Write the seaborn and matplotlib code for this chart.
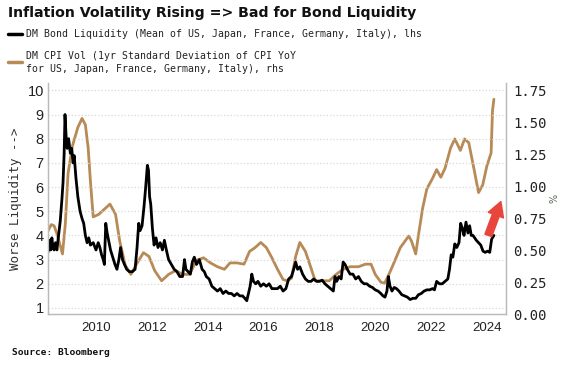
import matplotlib
matplotlib.use("Agg")
import matplotlib.pyplot as plt
import seaborn as sns
import pandas as pd

# DM bond liquidity (lhs), decimal year / level
liq_year = [2008.28, 2008.33, 2008.38, 2008.42, 2008.46, 2008.5, 2008.55, 2008.6, 2008.66, 2008.72,
            2008.78, 2008.82, 2008.86, 2008.89, 2008.93, 2008.97, 2009.02, 2009.08, 2009.13, 2009.18,
            2009.22, 2009.28, 2009.35, 2009.43, 2009.5, 2009.56, 2009.62, 2009.68, 2009.74, 2009.8,
            2009.9, 2010.0, 2010.08, 2010.14, 2010.2, 2010.26, 2010.3, 2010.35, 2010.4, 2010.45,
            2010.52, 2010.6, 2010.68, 2010.75, 2010.82, 2010.88, 2010.95, 2011.02, 2011.1, 2011.2,
            2011.3, 2011.4, 2011.47, 2011.53, 2011.58, 2011.65, 2011.72, 2011.78, 2011.84, 2011.88,
            2011.92, 2011.96, 2012.02, 2012.08, 2012.15, 2012.22, 2012.3, 2012.38, 2012.45, 2012.52,
            2012.6, 2012.7, 2012.8, 2012.9, 2013.0, 2013.1, 2013.17, 2013.22, 2013.3, 2013.38,
            2013.45, 2013.52, 2013.6, 2013.7, 2013.8, 2013.88, 2013.95, 2014.05, 2014.15, 2014.25,
            2014.35, 2014.45, 2014.55, 2014.65, 2014.75, 2014.85, 2014.95, 2015.05, 2015.15, 2015.25,
            2015.33, 2015.4, 2015.46, 2015.52, 2015.58, 2015.64, 2015.72, 2015.8, 2015.9, 2016.0,
            2016.1, 2016.2, 2016.3, 2016.4, 2016.5, 2016.6, 2016.7, 2016.8, 2016.9, 2017.0,
            2017.08, 2017.15, 2017.22, 2017.3, 2017.4, 2017.5, 2017.6, 2017.7, 2017.8, 2017.9,
            2018.0, 2018.1, 2018.2, 2018.3, 2018.4, 2018.5, 2018.56, 2018.62, 2018.7, 2018.78,
            2018.85, 2018.92, 2019.0, 2019.1, 2019.2, 2019.3, 2019.4, 2019.5, 2019.6, 2019.7,
            2019.8, 2019.9, 2020.0, 2020.1, 2020.2, 2020.28, 2020.35, 2020.42, 2020.47, 2020.53,
            2020.6, 2020.68, 2020.76, 2020.85, 2020.95, 2021.05, 2021.15, 2021.25, 2021.35, 2021.45,
            2021.55, 2021.65, 2021.75, 2021.85, 2021.95, 2022.05, 2022.12, 2022.2, 2022.3, 2022.4,
            2022.5, 2022.6, 2022.66, 2022.72, 2022.78, 2022.85, 2022.92, 2023.0, 2023.06, 2023.12,
            2023.18, 2023.25, 2023.32, 2023.38, 2023.44, 2023.5, 2023.56, 2023.62, 2023.7, 2023.78,
            2023.86, 2023.94, 2024.02, 2024.1, 2024.17, 2024.25]
liq_value = [3.3, 3.8, 3.4, 3.9, 3.5, 3.4, 3.7, 3.4, 4.0, 4.6,
             5.5, 6.2, 7.4, 9.0, 8.1, 7.6, 8.0, 7.4, 7.6, 7.0,
             7.3, 6.4, 5.6, 5.0, 4.7, 4.5, 4.0, 3.7, 3.9, 3.6,
             3.7, 3.4, 3.7, 3.5, 3.2, 3.0, 2.8, 4.5, 4.1, 3.8,
             3.4, 3.1, 2.8, 2.6, 3.0, 3.5, 3.0, 2.8, 2.6, 2.5,
             2.5, 2.6, 3.5, 4.5, 4.2, 4.4, 5.2, 6.0, 6.9, 6.7,
             5.6, 5.3, 4.3, 3.6, 3.9, 3.5, 3.7, 3.4, 3.8, 3.4,
             3.0, 2.8, 2.6, 2.5, 2.3, 2.3, 3.0, 2.6, 2.5, 2.4,
             2.9, 3.1, 2.8, 3.0, 2.6, 2.5, 2.3, 2.2, 1.9, 1.8,
             1.7, 1.8, 1.6, 1.7, 1.6, 1.6, 1.5, 1.6, 1.5, 1.5,
             1.4, 1.3, 1.6, 1.9, 2.4, 2.1, 2.0, 2.1, 1.9, 2.0,
             1.9, 2.0, 1.8, 1.8, 1.8, 1.9, 1.7, 1.8, 2.2, 2.3,
             2.6, 2.9, 2.6, 2.7, 2.4, 2.2, 2.1, 2.1, 2.2, 2.1,
             2.1, 2.15, 2.0, 1.9, 1.8, 1.7, 2.3, 2.1, 2.3, 2.2,
             2.9, 2.8, 2.6, 2.4, 2.4, 2.2, 2.3, 2.1, 2.0, 2.0,
             1.9, 1.85, 1.75, 1.7, 1.6, 1.5, 1.45, 1.7, 2.3, 1.9,
             1.7, 1.85, 1.8, 1.7, 1.55, 1.5, 1.45, 1.35, 1.4, 1.4,
             1.55, 1.6, 1.7, 1.75, 1.75, 1.8, 1.75, 2.1, 2.0, 2.0,
             2.1, 2.2, 2.6, 3.2, 3.1, 3.65, 3.5, 3.7, 4.5, 4.3,
             4.0, 4.55, 4.1, 4.4, 4.0, 4.0, 3.9, 3.8, 3.7, 3.6,
             3.35, 3.3, 3.35, 3.3, 3.85, 4.0]

# DM CPI volatility (rhs, %)
vol_year = [2008.28, 2008.4, 2008.5, 2008.6, 2008.7, 2008.8, 2008.9, 2009.0, 2009.15, 2009.35,
            2009.5, 2009.62, 2009.72, 2009.8, 2009.9, 2010.1, 2010.3, 2010.5, 2010.7, 2010.85,
            2011.05, 2011.25, 2011.45, 2011.7, 2011.9, 2012.1, 2012.35, 2012.6, 2012.85, 2013.1,
            2013.35, 2013.6, 2013.85, 2014.1, 2014.35, 2014.6, 2014.8, 2015.05, 2015.3, 2015.5,
            2015.7, 2015.9, 2016.1, 2016.3, 2016.5, 2016.7, 2016.85, 2017.0, 2017.15, 2017.3,
            2017.5, 2017.7, 2017.85, 2018.1, 2018.35, 2018.6, 2018.85, 2019.1, 2019.4, 2019.65,
            2019.85, 2020.0, 2020.2, 2020.33, 2020.45, 2020.65, 2020.9, 2021.2, 2021.3, 2021.45,
            2021.55, 2021.7, 2021.85, 2022.05, 2022.2, 2022.35, 2022.5, 2022.7, 2022.85, 2023.05,
            2023.2, 2023.35, 2023.55, 2023.7, 2023.85, 2024.0, 2024.15, 2024.2, 2024.25]
vol_value = [0.65, 0.70, 0.69, 0.63, 0.55, 0.47, 0.70, 1.10, 1.31, 1.46,
             1.53, 1.48, 1.30, 1.04, 0.76, 0.78, 0.82, 0.86, 0.78, 0.57,
             0.38, 0.31, 0.39, 0.48, 0.45, 0.34, 0.26, 0.31, 0.34, 0.31,
             0.31, 0.42, 0.44, 0.40, 0.37, 0.35, 0.40, 0.40, 0.39, 0.49,
             0.52, 0.56, 0.52, 0.44, 0.35, 0.27, 0.26, 0.28, 0.45, 0.56,
             0.49, 0.36, 0.26, 0.26, 0.26, 0.31, 0.35, 0.37, 0.37, 0.39,
             0.39, 0.31, 0.25, 0.24, 0.29, 0.39, 0.52, 0.61, 0.57, 0.47,
             0.62, 0.83, 0.98, 1.06, 1.13, 1.07, 1.14, 1.30, 1.37, 1.28,
             1.37, 1.34, 1.12, 0.95, 1.01, 1.16, 1.26, 1.59, 1.68]

year_ticks = [2010, 2012, 2014, 2016, 2018, 2020, 2022, 2024]
lhs_ticks = [1, 2, 3, 4, 5, 6, 7, 8, 9, 10]
rhs_ticks = [0.0, 0.25, 0.5, 0.75, 1.0, 1.25, 1.5, 1.75]

liq = pd.DataFrame({"year": liq_year, "value": liq_value})
vol = pd.DataFrame({"year": vol_year, "value": vol_value})

sns.set_style("white")
fig = plt.figure(figsize=(5.71, 3.66), dpi=100)
ax = fig.add_axes([0.084, 0.142, 0.802, 0.631])
ax2 = ax.twinx()

gold = "#b88a55"
sns.lineplot(data=vol, x="year", y="value", ax=ax2, color=gold, linewidth=2.0)
sns.lineplot(data=liq, x="year", y="value", ax=ax, color="black", linewidth=2.0)
# black series on top
ax.set_zorder(ax2.get_zorder() + 1)
ax.patch.set_visible(False)

ax.set_xlim(2008.28, 2024.68)
ax.set_ylim(0.75, 10.3)
ax2.set_ylim(0, (10.3 - 0.75) / 5.286)

ax.set_xticks(year_ticks)
ax.set_xticklabels([str(y) for y in year_ticks], fontsize=9.5, family="Liberation Sans", color="#222222")
ax.set_yticks(lhs_ticks)
ax.set_yticklabels([str(v) for v in lhs_ticks], fontsize=10.5, family="Liberation Sans", color="#222222")
ax2.set_yticks(rhs_ticks)
ax2.set_yticklabels([f"{v:.2f}" for v in rhs_ticks], fontsize=10, family="DejaVu Sans Mono", color="#222222")

ax.tick_params(axis="x", length=4, width=0.8, color="#bbbbbb", pad=2)
ax.tick_params(axis="y", length=0, pad=3)
ax2.tick_params(axis="y", length=0, pad=5)

ax.grid(axis="y", color="#d8d8d8", linestyle=":", linewidth=0.9)
ax.set_xlabel("")
ax.set_ylabel("Worse Liquidity -->", fontsize=9, family="DejaVu Sans Mono", color="#333333", labelpad=4)
ax2.set_xlabel("")
ax2.set_ylabel("%", fontsize=7, color="#556655", labelpad=2)

for a in (ax, ax2):
    a.spines["top"].set_visible(False)
    for s in ("left", "right", "bottom"):
        a.spines[s].set_color("#bbbbbb")
        a.spines[s].set_linewidth(0.9)

# red arrow (drawn on the top axes, lhs units)
ax.annotate("", xy=(2024.5, 5.4), xytext=(2024.05, 4.0),
            arrowprops=dict(arrowstyle="simple,head_width=0.9,head_length=0.8,tail_width=0.4",
                            color="#e8453c", mutation_scale=13, shrinkA=0, shrinkB=0),
            zorder=5)

fig.text(0.014, 0.965, "Inflation Volatility Rising => Bad for Bond Liquidity",
         fontsize=10.2, fontweight="bold", family="DejaVu Sans", va="center", color="#111111")
fig.lines.append(plt.Line2D([0.014, 0.038], [0.907, 0.907], transform=fig.transFigure,
                            color="black", linewidth=2.5))
fig.lines.append(plt.Line2D([0.014, 0.038], [0.83, 0.83], transform=fig.transFigure,
                            color=gold, linewidth=2.5))
fig.text(0.045, 0.907, "DM Bond Liquidity (Mean of US, Japan, France, Germany, Italy), lhs",
         fontsize=7.1, family="DejaVu Sans Mono", va="center", color="#222222")
fig.text(0.045, 0.83, "DM CPI Vol (1yr Standard Deviation of CPI YoY\nfor US, Japan, France, Germany, Italy), rhs",
         fontsize=7.1, family="DejaVu Sans Mono", va="center", color="#222222", linespacing=1.4)
fig.text(0.021, 0.038, "Source: Bloomberg", fontsize=6.8, fontweight="bold",
         family="DejaVu Sans Mono", va="center", color="#111111")

fig.savefig("out.png", dpi=100)
